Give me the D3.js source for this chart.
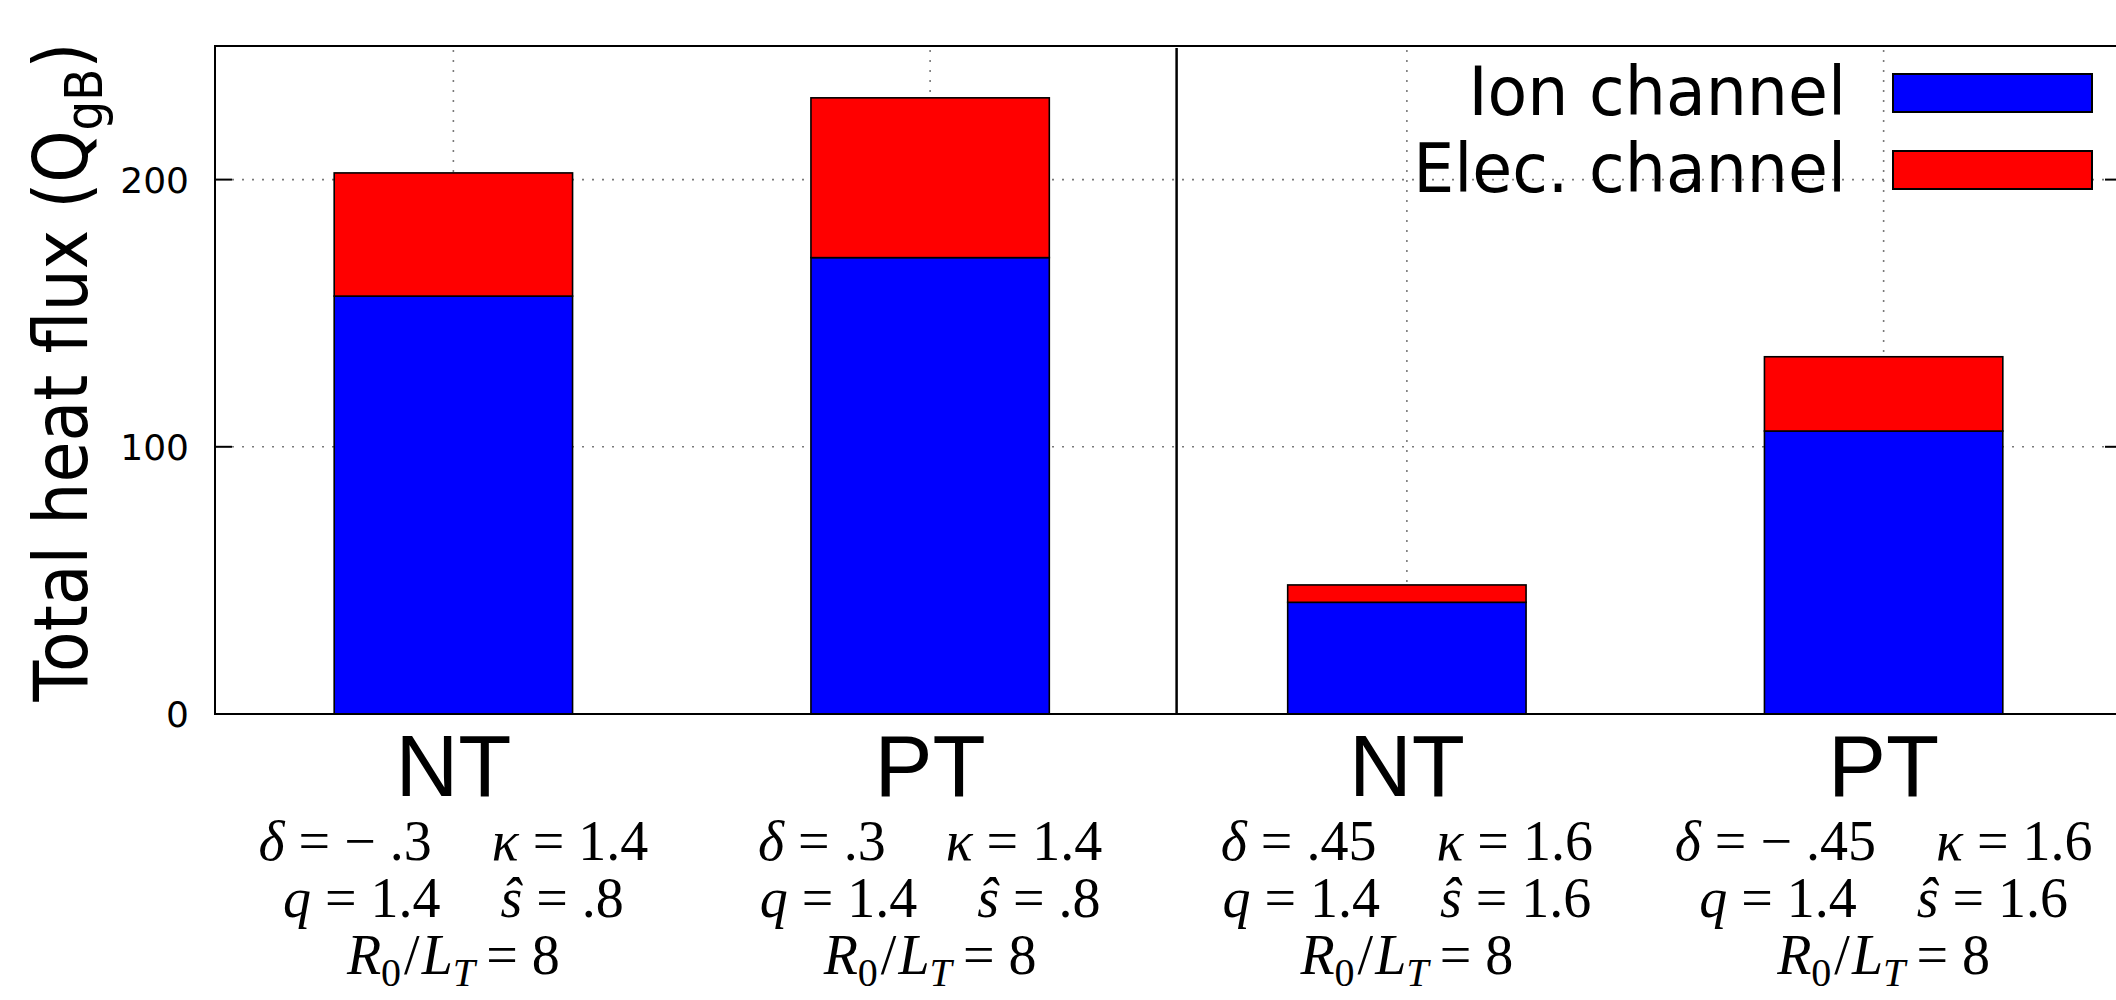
<!DOCTYPE html>
<html lang="en">
<head>
    <meta charset="UTF-8">
    <title>Total heat flux: ion and electron channels</title>
    <script src="https://d3js.org/d3.v7.min.js"></script>
    <style>
        body {
            margin: 0;
            background: white;
        }
        .tick-label {
            font-family: "DejaVu Sans", sans-serif;
            font-size: 36px;
        }
        .shape-label {
            font-family: "Liberation Sans", Arial, sans-serif;
            font-size: 87px;
        }
        .math {
            font-family: "Liberation Serif", "Times New Roman", serif;
            font-size: 56px;
        }
        .legend-text {
            font-family: "DejaVu Sans", sans-serif;
            font-size: 68px;
        }
        .axis-title {
            font-family: "DejaVu Sans", sans-serif;
            font-size: 74px;
        }
    </style>
</head>
<body>
    <svg width="2116" height="1000"></svg>
    <script>
        // values
        const categories = ["NT", "PT", "NT", "PT"];
        const ionFlux = [156.4, 170.8, 41.8, 105.9];
        const elecFlux = [46.1, 59.8, 6.5, 27.8];
        const seriesNames = ["Ion channel", "Elec. channel"];
        const seriesColors = ["#0000ff", "#ff0000"];
        const yTicks = [0, 100, 200];
        const separatorAt = 1.517;

        // geometry parameters under each bar
        const deltaVals = ["\u2212 .3", ".3", ".45", "\u2212 .45"];
        const kappaVals = ["1.4", "1.4", "1.6", "1.6"];
        const qVals = ["1.4", "1.4", "1.4", "1.4"];
        const shearVals = [".8", ".8", "1.6", "1.6"];
        const r0ltVals = ["8", "8", "8", "8"];

        const svg = d3.select("svg");
        const margin = { top: 46, left: 215, bottom: 714, right: 2122 };

        const x = d3.scaleLinear()
            .domain([-0.5, 3.5])
            .range([margin.left, margin.right]);

        const y = d3.scaleLinear()
            .domain([0, 250])
            .range([margin.bottom, margin.top]);

        const barW = x(0.25) - x(0);

        // dotted grid
        const grid = svg.append("g")
            .attr("stroke", "#7a7a7a")
            .attr("stroke-width", 1.6)
            .attr("stroke-dasharray", "2,8");

        grid.selectAll(".hgrid")
            .data(yTicks.filter(d => d > 0))
            .enter()
            .append("line")
            .attr("x1", margin.left + 17)
            .attr("x2", margin.right - 17)
            .attr("y1", d => y(d))
            .attr("y2", d => y(d));

        grid.selectAll(".vgrid")
            .data(categories)
            .enter()
            .append("line")
            .attr("x1", (d, i) => x(i))
            .attr("x2", (d, i) => x(i))
            .attr("y1", margin.top + 4)
            .attr("y2", margin.bottom);

        // stacked bars
        const stacks = categories.map((c, i) => ({
            i: i,
            parts: [
                { y0: 0, y1: ionFlux[i], color: seriesColors[0] },
                { y0: ionFlux[i], y1: ionFlux[i] + elecFlux[i], color: seriesColors[1] }
            ]
        }));

        stacks.forEach(s => {
            svg.selectAll(null)
                .data(s.parts)
                .enter()
                .append("rect")
                .attr("x", x(s.i) - barW)
                .attr("width", 2 * barW)
                .attr("y", d => y(d.y1))
                .attr("height", d => y(d.y0) - y(d.y1))
                .attr("fill", d => d.color)
                .attr("stroke", "black")
                .attr("stroke-width", 1.6);
        });

        // frame
        svg.append("rect")
            .attr("x", margin.left)
            .attr("y", margin.top)
            .attr("width", margin.right - margin.left)
            .attr("height", margin.bottom - margin.top)
            .attr("fill", "none")
            .attr("stroke", "black")
            .attr("stroke-width", 2);

        // y ticks on both sides
        const ticks = svg.append("g").attr("stroke", "black").attr("stroke-width", 2);
        ticks.selectAll(".lt")
            .data(yTicks)
            .enter()
            .append("line")
            .attr("x1", margin.left)
            .attr("x2", margin.left + 17)
            .attr("y1", d => y(d))
            .attr("y2", d => y(d));
        ticks.selectAll(".rt")
            .data(yTicks)
            .enter()
            .append("line")
            .attr("x1", margin.right - 17)
            .attr("x2", margin.right)
            .attr("y1", d => y(d))
            .attr("y2", d => y(d));

        svg.selectAll(".tick-label")
            .data(yTicks)
            .enter()
            .append("text")
            .attr("class", "tick-label")
            .attr("x", 189)
            .attr("y", d => y(d) + 13)
            .attr("text-anchor", "end")
            .text(d => d);

        // separator between the two shape groups
        svg.append("line")
            .attr("x1", x(separatorAt))
            .attr("x2", x(separatorAt))
            .attr("y1", margin.top + 2)
            .attr("y2", margin.bottom)
            .attr("stroke", "black")
            .attr("stroke-width", 2.5);

        // legend
        const legend = svg.append("g");
        seriesNames.forEach((name, i) => {
            const ly = 93 + i * 77;
            legend.append("rect")
                .attr("x", 1893)
                .attr("y", ly - 19)
                .attr("width", 199)
                .attr("height", 38)
                .attr("fill", seriesColors[i])
                .attr("stroke", "black")
                .attr("stroke-width", 2);
            legend.append("text")
                .attr("class", "legend-text")
                .attr("transform", `translate(1846,${ly + 22}) scale(0.955,1)`)
                .attr("text-anchor", "end")
                .text(name);
        });

        // y axis title
        const yt = svg.append("text")
            .attr("class", "axis-title")
            .attr("transform", "translate(87,372) rotate(-90) scale(0.9,1)")
            .attr("text-anchor", "middle");
        yt.append("tspan").text("Total heat flux (Q");
        yt.append("tspan").attr("font-size", 52).attr("dy", 15).text("gB");
        yt.append("tspan").attr("dy", -15).text(")");

        // category labels and parameters
        const quad = 60;
        function mathLine(parts, cx, by) {
            const t = svg.append("text")
                .attr("class", "math")
                .attr("x", cx)
                .attr("y", by)
                .attr("text-anchor", "middle");
            parts.forEach(p => {
                const s = t.append("tspan").text(p.t);
                if (p.it) s.attr("font-style", "italic");
                if (p.dx) s.attr("dx", p.dx);
                if (p.dy) s.attr("dy", p.dy);
                if (p.fs) s.attr("font-size", p.fs);
            });
        }

        categories.forEach((c, i) => {
            const cx = x(i);
            svg.append("text")
                .attr("class", "shape-label")
                .attr("x", cx)
                .attr("y", 796)
                .attr("text-anchor", "middle")
                .text(c);

            mathLine([
                { t: "\u03b4", it: true },
                { t: " = " + deltaVals[i] },
                { t: "\u03ba", it: true, dx: quad },
                { t: " = " + kappaVals[i] }
            ], cx, 860);

            mathLine([
                { t: "q", it: true },
                { t: " = " + qVals[i] },
                { t: "\u015d", it: true, dx: quad },
                { t: " = " + shearVals[i] }
            ], cx, 917);

            mathLine([
                { t: "R", it: true },
                { t: "0", fs: 40, dy: 12 },
                { t: "/", dy: -12, dx: 3 },
                { t: "L", it: true, dx: 2 },
                { t: "T", it: true, fs: 40, dy: 12 },
                { t: "\u2009= " + r0ltVals[i], dy: -12 }
            ], cx, 974);
        });
    </script>
</body>
</html>
